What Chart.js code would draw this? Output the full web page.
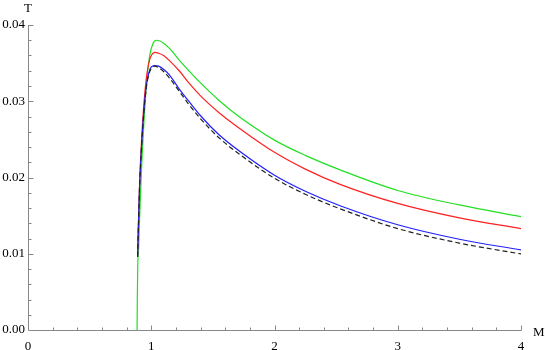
<!DOCTYPE html>
<html><head><meta charset="utf-8">
<script src="https://cdn.jsdelivr.net/npm/chart.js@4"></script>
<style>html,body{margin:0;padding:0;background:#fff}</style>
</head><body>
<canvas id="c" width="545" height="350" style="width:545px;height:350px;display:block"></canvas>
<script>
// Tick labels
const xTicks = [0, 1, 2, 3, 4];
const yTicks = [0, 0.01, 0.02, 0.03, 0.04];
const xTitle = "M";
const yTitle = "T";

// Series (M values, T values)
const M_green = [0.885, 0.887, 0.890, 0.898, 0.905, 0.912, 0.925, 0.937, 0.953, 0.970, 0.990, 1.015, 1.042, 1.070, 1.100, 1.150, 1.232, 1.300, 1.400, 1.550, 1.720, 2.000, 2.250, 2.532, 3.000, 3.500, 4.000];
const T_green = [0.0000, 0.0040, 0.0080, 0.0109, 0.0145, 0.0175, 0.0225, 0.0262, 0.0306, 0.0338, 0.0362, 0.0376, 0.0380, 0.0379, 0.0376, 0.0369, 0.0353, 0.0341, 0.0324, 0.0301, 0.0279, 0.0249, 0.0229, 0.0210, 0.0183, 0.0164, 0.01487];

const M_red = [0.889, 0.895, 0.905, 0.920, 0.940, 0.960, 0.980, 1.000, 1.030, 1.060, 1.100, 1.150, 1.232, 1.300, 1.400, 1.550, 1.720, 2.000, 2.250, 2.532, 3.000, 3.500, 4.000];
const T_red = [0.0096, 0.0135, 0.0190, 0.0245, 0.0296, 0.0330, 0.0350, 0.0360, 0.03642, 0.0363, 0.0360, 0.0353, 0.0339, 0.0325, 0.0307, 0.0285, 0.0264, 0.0233, 0.0211, 0.0191, 0.0166, 0.0147, 0.0133];

const M_blue = [0.889, 0.895, 0.905, 0.920, 0.940, 0.960, 0.980, 1.000, 1.030, 1.060, 1.100, 1.150, 1.232, 1.300, 1.400, 1.550, 1.720, 2.000, 2.250, 2.532, 3.000, 3.500, 4.000];
const T_blue = [0.0096, 0.0130, 0.0186, 0.0237, 0.0287, 0.0320, 0.0337, 0.0345, 0.03468, 0.0346, 0.0342, 0.0334, 0.0315, 0.0301, 0.0281, 0.0256, 0.0234, 0.0203, 0.0182, 0.0163, 0.0138, 0.0119, 0.0105];

const M_black = [0.889, 0.895, 0.905, 0.920, 0.940, 0.960, 0.980, 1.000, 1.030, 1.060, 1.100, 1.150, 1.232, 1.300, 1.400, 1.550, 1.720, 2.000, 2.250, 2.532, 3.000, 3.500, 4.000];
const T_black = [0.0096, 0.0130, 0.0185, 0.0235, 0.0285, 0.0318, 0.0335, 0.0343, 0.0346, 0.0344, 0.0339, 0.0330, 0.0312, 0.0297, 0.0277, 0.0252, 0.0230, 0.0199, 0.0178, 0.0159, 0.0133, 0.0114, 0.00997];

const pts = (xs, ys) => xs.map((x, i) => ({x: x, y: ys[i]}));

const axisColor = '#888';
const fontFam = '"Liberation Serif", "DejaVu Serif", serif';

const axesPlugin = {
  id: 'mmaAxes',
  beforeDatasetsDraw(chart) {
    const ctx = chart.ctx, xs = chart.scales.x, ys = chart.scales.y;
    const L = xs.left, R = xs.right, T = ys.top, B = ys.bottom;
    ctx.save();
    ctx.strokeStyle = axisColor;
    ctx.lineWidth = 1;
    ctx.beginPath();
    ctx.moveTo(L + 0.5, B + 0.5); ctx.lineTo(R + 0.5, B + 0.5);
    ctx.moveTo(L + 0.5, B + 0.5); ctx.lineTo(L + 0.5, T);
    for (let k = 1; k <= 20; k++) {
      const px = Math.round(xs.getPixelForValue(k * 0.2)) + 0.5;
      const len = (k % 5 === 0) ? 5 : 3;
      ctx.moveTo(px, B + 0.5); ctx.lineTo(px, B + 0.5 - len);
    }
    for (let k = 1; k <= 20; k++) {
      const py = Math.round(ys.getPixelForValue(k * 0.002)) + 0.5;
      const len = (k % 5 === 0) ? 5 : 3;
      ctx.moveTo(L + 0.5, py); ctx.lineTo(L + 0.5 + len, py);
    }
    ctx.stroke();
    ctx.fillStyle = '#000';
    ctx.font = '13px ' + fontFam;
    ctx.textAlign = 'center';
    ctx.textBaseline = 'middle';
    ctx.fillText(yTitle, L, 9);
    ctx.textAlign = 'left';
    ctx.fillText(xTitle, R + 12, B + 3);
    ctx.restore();
  }
};

new Chart(document.getElementById('c'), {
  type: 'scatter',
  data: {
    datasets: [
      {data: pts(M_black, T_black), borderColor: '#222', borderDash: [5, 3], borderWidth: 1.2},
      {data: pts(M_blue, T_blue), borderColor: '#2020ff', borderWidth: 1.2},
      {data: pts(M_red, T_red), borderColor: '#ff2020', borderWidth: 1.2},
      {data: pts(M_green, T_green), borderColor: '#20e020', borderWidth: 1.2}
    ].map(d => Object.assign({showLine: true, pointRadius: 0, pointHoverRadius: 0, fill: false, cubicInterpolationMode: 'monotone'}, d))
  },
  options: {
    responsive: false,
    animation: false,
    devicePixelRatio: 1,
    layout: {padding: {top: 25, right: 24, left: 0, bottom: 0}},
    plugins: {legend: {display: false}, tooltip: {enabled: false}},
    scales: {
      x: {
        type: 'linear', min: 0, max: 4,
        afterBuildTicks: s => { s.ticks = xTicks.map(v => ({value: v})); },
        afterFit: s => { s.height = 20; },
        grid: {display: false, drawTicks: false},
        border: {display: false},
        ticks: {callback: v => String(v), color: '#000', padding: 9, maxRotation: 0, autoSkip: false, font: {family: fontFam, size: 13}}
      },
      y: {
        type: 'linear', min: 0, max: 0.04,
        afterBuildTicks: s => { s.ticks = yTicks.map(v => ({value: v})); },
        afterFit: s => { s.width = 28; },
        grid: {display: false, drawTicks: false},
        border: {display: false},
        ticks: {callback: v => v.toFixed(2), color: '#000', padding: 3, autoSkip: false, font: {family: fontFam, size: 13}}
      }
    }
  },
  plugins: [axesPlugin]
});
</script>
</body></html>
